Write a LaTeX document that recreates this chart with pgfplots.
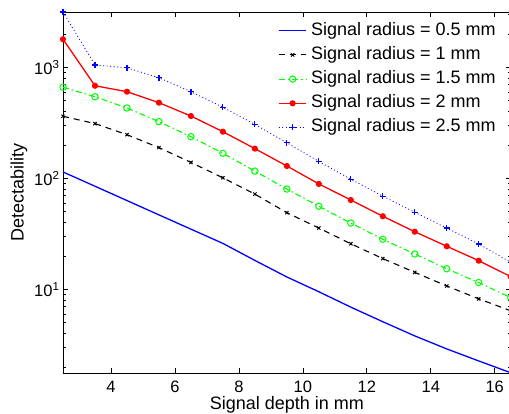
\documentclass[border=0pt]{standalone}
\usepackage{fontspec}
\setmainfont{Liberation Sans}
\usepackage{pgfplots}
\pgfplotsset{compat=1.18}
\begin{document}
\begin{tikzpicture}
\begin{semilogyaxis}[
  scale only axis, width=447.7pt, height=361pt,
  xmin=2.5, xmax=16.5, ymin=1.76, ymax=3150,
  axis line style={line width=0.8pt},
  every tick/.style={black, line width=0.6pt},
  major tick length=5pt, minor tick length=3pt,
  xtick={4,6,...,16},
  ytick={10,100,1000},
  yticklabels={10\textsuperscript{1},10\textsuperscript{2},10\textsuperscript{3}},
  minor ytick={2,3,4,5,6,7,8,9,20,30,40,50,60,70,80,90,200,300,400,500,600,700,800,900,2000,3000},
  /pgf/number format/assume math mode=true,
  tick label style={font=\fontsize{16.5}{16.5}\selectfont},
  xticklabel style={anchor=base, yshift=-19.7pt},
  xlabel={Signal depth in mm},
  ylabel={Detectability},
  xlabel style={font=\fontsize{18}{18}\selectfont, at={(axis description cs:0.5,0)}, anchor=base, yshift=-37pt, inner sep=0pt},
  ylabel style={font=\fontsize{18}{18}\selectfont},
  legend style={draw=none, fill=none, at={(rel axis cs:0,1)}, anchor=north west, xshift=212pt, yshift=-8pt,
    font=\fontsize{18}{18}\selectfont, row sep=7.2pt, column sep=4pt,
    nodes={inner sep=0pt, text height=13pt, text depth=4pt}},
  legend cell align=left,
  legend image code/.code={\draw[mark repeat=2,mark phase=2,#1] plot coordinates {(0pt,0pt) (13.8pt,0pt) (27.6pt,0pt)};},
]
\addplot[blue, line width=1.3pt, no marks] coordinates {
(2.5,114) (3.5,84.8) (4.5,63) (5.5,46.8) (6.5,34.8) (7.5,25.9) (8.5,18.2) (9.5,12.9) (10.5,9.5) (11.5,6.9) (12.5,5.1) (13.5,3.8) (14.5,2.9) (15.5,2.26) (16.5,1.77)};
\addlegendentry{Signal radius = 0.5 mm}
\addplot[black, line width=1.1pt, dash pattern=on 6pt off 5pt, mark=x, mark size=2.3pt, mark options={solid, line width=1pt}] coordinates {
(2.5,362) (3.5,311) (4.5,247) (5.5,189) (6.5,139) (7.5,101) (8.5,72) (9.5,49) (10.5,35.6) (11.5,25.7) (12.5,18.9) (13.5,14.2) (14.5,10.7) (15.5,8.2) (16.5,6.4)};
\addlegendentry{Signal radius = 1 mm}
\addplot[green, line width=1.1pt, dash pattern=on 6pt off 3pt on 1.5pt off 3pt, mark=o, mark size=3.2pt, mark options={solid, line width=1pt}] coordinates {
(2.5,661) (3.5,543) (4.5,430) (5.5,324) (6.5,237) (7.5,168) (8.5,116) (9.5,80) (10.5,56) (11.5,39.5) (12.5,28.2) (13.5,20.8) (14.5,15.3) (15.5,11.5) (16.5,8.4)};
\addlegendentry{Signal radius = 1.5 mm}
\addplot[red, line width=1.3pt, mark=*, mark size=2.4pt, mark options={solid, fill=red}] coordinates {
(2.5,1790) (3.5,682) (4.5,603) (5.5,480) (6.5,364) (7.5,263) (8.5,185) (9.5,129) (10.5,89) (11.5,63.7) (12.5,45.5) (13.5,33) (14.5,24.4) (15.5,18.1) (16.5,13)};
\addlegendentry{Signal radius = 2 mm}
\addplot[blue, line width=0.8pt, dash pattern=on 1pt off 2.5pt, mark=+, mark size=3pt, mark options={solid, line width=1.2pt}] coordinates {
(2.5,3150) (3.5,1050) (4.5,990) (5.5,805) (6.5,603) (7.5,436) (8.5,306) (9.5,209) (10.5,142) (11.5,98) (12.5,69) (13.5,49.4) (14.5,35.6) (15.5,25.6) (16.5,17.5)};
\addlegendentry{Signal radius = 2.5 mm}
\end{semilogyaxis}
\pgfresetboundingbox
\path[use as bounding box] (current axis.south west) ++(-63pt,-41pt) rectangle ++(509pt,414pt);
\end{tikzpicture}
\end{document}
